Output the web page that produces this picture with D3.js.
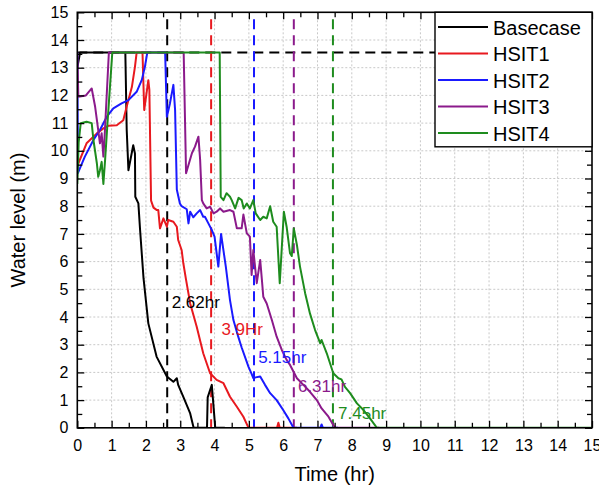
<!DOCTYPE html>
<html>
<head>
<meta charset="utf-8">
<script src="https://cdn.jsdelivr.net/npm/d3@7"></script>
<style>
  html, body { margin: 0; padding: 0; background: #fff; }
  svg { display: block; font-family: "Liberation Sans", Arial, sans-serif; }
</style>
</head>
<body>
<svg id="chart" width="599" height="490"></svg>
<script>
// ---------------- data ----------------
const seriesNames = ["Basecase", "HSIT1", "HSIT2", "HSIT3", "HSIT4"];

const basecase = [[0,13.0],[0.08,13.55],[1.40,13.55],[1.44,10.75],[1.49,9.3],[1.63,10.2],[1.68,9.9],[1.69,8.34],[1.78,8.1],[1.83,7.14],[1.93,5.4],[2.07,3.77],[2.31,2.57],[2.61,1.85],[2.80,1.66],[2.90,1.79],[2.94,1.55],[3.09,1.12],[3.29,0.52],[3.39,0],[3.78,0],[3.80,1.1],[3.92,1.55],[4.02,0],[4.3,0]];

const hsit1 = [[0,9.45],[0.27,10.27],[0.57,10.63],[0.76,10.81],[0.9,10.9],[1.15,10.92],[1.34,11.1],[1.44,11.6],[1.59,12.3],[1.68,13.03],[1.73,13.55],[1.90,13.55],[1.95,11.47],[2.07,12.55],[2.10,12.2],[2.15,8.2],[2.22,7.95],[2.32,7.86],[2.36,7.86],[2.41,7.2],[2.51,7.56],[2.61,7.26],[2.65,7.5],[2.80,7.44],[2.90,7.26],[2.94,6.78],[3.04,6.42],[3.09,5.94],[3.17,5.34],[3.29,4.49],[3.48,3.65],[3.67,2.69],[3.87,1.97],[4.06,1.73],[4.26,1.61],[4.45,1.12],[4.65,0.76],[4.84,0.4],[4.99,0],[5.82,0],[5.86,0.18],[5.90,0],[6.4,0]];

const hsit2 = [[0,13.55],[0.02,9.2],[0.22,9.79],[0.47,10.39],[0.66,10.75],[0.86,11.23],[1.05,11.53],[1.29,11.71],[1.49,11.83],[1.73,12.13],[1.88,12.56],[1.97,13.03],[2.04,13.55],[2.56,13.55],[2.61,11.23],[2.70,11.71],[2.80,12.38],[2.85,11.47],[2.90,8.6],[2.99,8.1],[3.04,8.0],[3.19,7.89],[3.24,7.38],[3.29,7.8],[3.38,7.6],[3.48,7.74],[3.58,7.86],[3.67,7.62],[3.72,7.62],[3.82,7.38],[3.92,7.14],[4.0,6.9],[4.11,5.82],[4.19,7.0],[4.33,5.8],[4.45,4.61],[4.55,3.89],[4.69,3.29],[4.79,2.9],[4.99,2.2],[5.08,1.95],[5.13,1.79],[5.2,1.82],[5.33,1.85],[5.47,1.55],[5.62,1.25],[5.81,1.0],[6.0,0.64],[6.15,0.34],[6.3,0],[7.08,0],[7.12,0.12],[7.16,0],[7.6,0]];

const hsit3 = [[0,13.55],[0.03,11.95],[0.25,12.0],[0.42,12.25],[0.52,11.59],[0.61,10.75],[0.66,10.27],[0.71,10.63],[0.76,9.79],[0.80,10.6],[0.92,13.55],[3.10,13.55],[3.17,9.19],[3.34,9.91],[3.43,10.15],[3.53,10.51],[3.58,9.67],[3.63,8.22],[3.67,8.1],[3.77,7.92],[3.87,7.98],[3.97,7.74],[4.06,7.8],[4.16,7.92],[4.26,7.8],[4.45,7.86],[4.55,7.8],[4.65,7.2],[4.79,7.2],[4.84,7.7],[4.94,7.02],[5.03,6.9],[5.08,5.52],[5.13,6.42],[5.18,5.82],[5.23,5.22],[5.33,6.06],[5.38,5.34],[5.42,4.73],[5.52,4.49],[5.67,3.89],[5.81,3.29],[5.96,2.81],[6.1,2.45],[6.2,2.27],[6.4,1.79],[6.59,1.55],[6.78,1.3],[6.98,1.0],[7.12,0.7],[7.32,0.4],[7.46,0.1],[7.5,0],[8.8,0]];

const hsit4 = [[0,8.8],[0.04,10.3],[0.1,11.0],[0.27,11.05],[0.42,11.0],[0.47,10.39],[0.57,9.55],[0.61,9.06],[0.66,9.3],[0.71,9.6],[0.76,8.8],[0.81,9.67],[0.88,11.0],[1.02,13.55],[4.15,13.55],[4.18,8.34],[4.26,8.22],[4.35,8.47],[4.45,8.34],[4.5,8.22],[4.6,7.92],[4.7,8.3],[4.79,8.22],[4.85,7.92],[4.94,8.1],[5.03,7.92],[5.13,8.22],[5.2,7.74],[5.33,7.5],[5.42,7.62],[5.52,7.56],[5.62,8.0],[5.71,7.44],[5.81,7.26],[5.90,5.22],[6.02,7.8],[6.1,7.26],[6.2,6.3],[6.25,6.2],[6.31,7.2],[6.4,6.6],[6.49,5.82],[6.64,4.86],[6.78,4.13],[6.93,3.53],[7.08,3.05],[7.12,3.17],[7.27,2.69],[7.46,1.97],[7.61,1.79],[7.7,1.75],[7.8,1.48],[7.95,1.25],[8.15,0.88],[8.34,0.64],[8.53,0.34],[8.73,0],[15,0]];

const markerTimes = [2.62, 3.9, 5.15, 6.31, 7.45];
const markerLabels = ["2.62hr", "3.9Hr", "5.15hr", "6.31hr", "7.45hr"];
const markerLabelTimes = [2.75, 4.2, 5.27, 6.43, 7.6];
const markerLabelLevels = [4.32, 3.35, 2.34, 1.29, 0.32];
const fullLevel = 13.55;

const xTicks = d3.range(0, 16, 1);
const yTicks = d3.range(0, 16, 1);

// ---------------- layout ----------------
const colors = ["#000000", "#e8191f", "#1a1aff", "#8b1a8b", "#1e8c1e"];
const allSeries = [basecase, hsit1, hsit2, hsit3, hsit4];

const L = 77.3, R = 592, T = 12.3, B = 427.8;
const x = d3.scaleLinear().domain([0, 15]).range([L, R]);
const y = d3.scaleLinear().domain([0, 15]).range([B, T]);

const svg = d3.select("#chart");

svg.append("clipPath").attr("id", "clip")
  .append("rect").attr("x", L).attr("y", T).attr("width", R - L).attr("height", B - T);

// grid
const grid = svg.append("g");
grid.selectAll(".gx").data(xTicks.filter(d => d > 0 && d < 15)).enter().append("line")
  .attr("x1", d => x(d)).attr("x2", d => x(d)).attr("y1", T).attr("y2", B)
  .attr("stroke", "#c8c8c8").attr("stroke-width", 1).attr("stroke-dasharray", "2,2");
grid.selectAll(".gy").data(yTicks.filter(d => d > 0 && d < 15)).enter().append("line")
  .attr("x1", L).attr("x2", R).attr("y1", d => y(d)).attr("y2", d => y(d))
  .attr("stroke", "#c8c8c8").attr("stroke-width", 1).attr("stroke-dasharray", "2,2");

// dashed reference lines
const refs = svg.append("g").attr("clip-path", "url(#clip)");
refs.append("line")
  .attr("x1", x(0)).attr("x2", x(15)).attr("y1", y(fullLevel)).attr("y2", y(fullLevel))
  .attr("stroke", "#000").attr("stroke-width", 2).attr("stroke-dasharray", "10,6");
refs.selectAll(".vl").data(markerTimes).enter().append("line")
  .attr("x1", d => x(d)).attr("x2", d => x(d)).attr("y1", y(14.75)).attr("y2", y(0))
  .attr("stroke", (d, i) => colors[i]).attr("stroke-width", 2).attr("stroke-dasharray", "10,6");

// series
const line = d3.line().x(d => x(d[0])).y(d => y(d[1]));
const lines = svg.append("g").attr("clip-path", "url(#clip)");
allSeries.forEach((s, i) => {
  lines.append("path").datum(s).attr("d", line)
    .attr("fill", "none").attr("stroke", colors[i]).attr("stroke-width", 2)
    .attr("stroke-linejoin", "round");
});

// marker labels
svg.selectAll(".ml").data(markerLabels).enter().append("text")
  .attr("x", (d, i) => x(markerLabelTimes[i]))
  .attr("y", (d, i) => y(markerLabelLevels[i]))
  .attr("fill", (d, i) => colors[i])
  .attr("font-size", 17)
  .text(d => d);

// axes
const minorVals = d3.range(0.5, 15, 1);
svg.append("g").attr("transform", `translate(0,${B})`)
  .call(d3.axisBottom(x).tickValues(xTicks).tickSize(-7).tickPadding(12).tickFormat(d3.format("d")))
  .call(g => g.select(".domain").remove())
  .call(g => g.selectAll("text").attr("font-size", 16).attr("font-family", "Liberation Sans, Arial, sans-serif"))
  .call(g => g.selectAll("line").attr("stroke-width", 1.3));
svg.append("g").attr("transform", `translate(0,${B})`)
  .call(d3.axisBottom(x).tickValues(minorVals).tickSize(-5).tickFormat(""))
  .call(g => g.select(".domain").remove())
  .call(g => g.selectAll("line").attr("stroke-width", 1.3));
svg.append("g").attr("transform", `translate(0,${T})`)
  .call(d3.axisTop(x).tickValues(xTicks).tickSize(-7).tickFormat(""))
  .call(g => g.select(".domain").remove())
  .call(g => g.selectAll("line").attr("stroke-width", 1.3));
svg.append("g").attr("transform", `translate(0,${T})`)
  .call(d3.axisTop(x).tickValues(minorVals).tickSize(-5).tickFormat(""))
  .call(g => g.select(".domain").remove())
  .call(g => g.selectAll("line").attr("stroke-width", 1.3));

svg.append("g").attr("transform", `translate(${L},0)`)
  .call(d3.axisLeft(y).tickValues(yTicks).tickSize(-7).tickPadding(9).tickFormat(d3.format("d")))
  .call(g => g.select(".domain").remove())
  .call(g => g.selectAll("text").attr("font-size", 16).attr("font-family", "Liberation Sans, Arial, sans-serif"))
  .call(g => g.selectAll("line").attr("stroke-width", 1.3));
svg.append("g").attr("transform", `translate(${L},0)`)
  .call(d3.axisLeft(y).tickValues(minorVals).tickSize(-5).tickFormat(""))
  .call(g => g.select(".domain").remove())
  .call(g => g.selectAll("line").attr("stroke-width", 1.3));
svg.append("g").attr("transform", `translate(${R},0)`)
  .call(d3.axisRight(y).tickValues(yTicks).tickSize(-7).tickFormat(""))
  .call(g => g.select(".domain").remove())
  .call(g => g.selectAll("line").attr("stroke-width", 1.3));
svg.append("g").attr("transform", `translate(${R},0)`)
  .call(d3.axisRight(y).tickValues(minorVals).tickSize(-5).tickFormat(""))
  .call(g => g.select(".domain").remove())
  .call(g => g.selectAll("line").attr("stroke-width", 1.3));

// frame
svg.append("rect").attr("x", L).attr("y", T).attr("width", R - L).attr("height", B - T)
  .attr("fill", "none").attr("stroke", "#000").attr("stroke-width", 1.6);

// axis titles
svg.append("text").attr("x", (L + R) / 2).attr("y", 481)
  .attr("text-anchor", "middle").attr("font-size", 20).text("Time (hr)");
svg.append("text").attr("transform", `translate(25,${(T + B) / 2}) rotate(-90)`)
  .attr("text-anchor", "middle").attr("font-size", 20).text("Water level (m)");

// legend
const lg = svg.append("g");
lg.append("rect").attr("x", 435).attr("y", T).attr("width", R - 435).attr("height", 134.5)
  .attr("fill", "#fff").attr("stroke", "#000").attr("stroke-width", 1.4);
seriesNames.forEach((n, i) => {
  const yy = 27 + i * 26.5;
  lg.append("line").attr("x1", 438).attr("x2", 488).attr("y1", yy).attr("y2", yy)
    .attr("stroke", colors[i]).attr("stroke-width", 2);
  lg.append("text").attr("x", 493).attr("y", yy + 7.5).attr("font-size", 20).text(n);
});
</script>
</body>
</html>
